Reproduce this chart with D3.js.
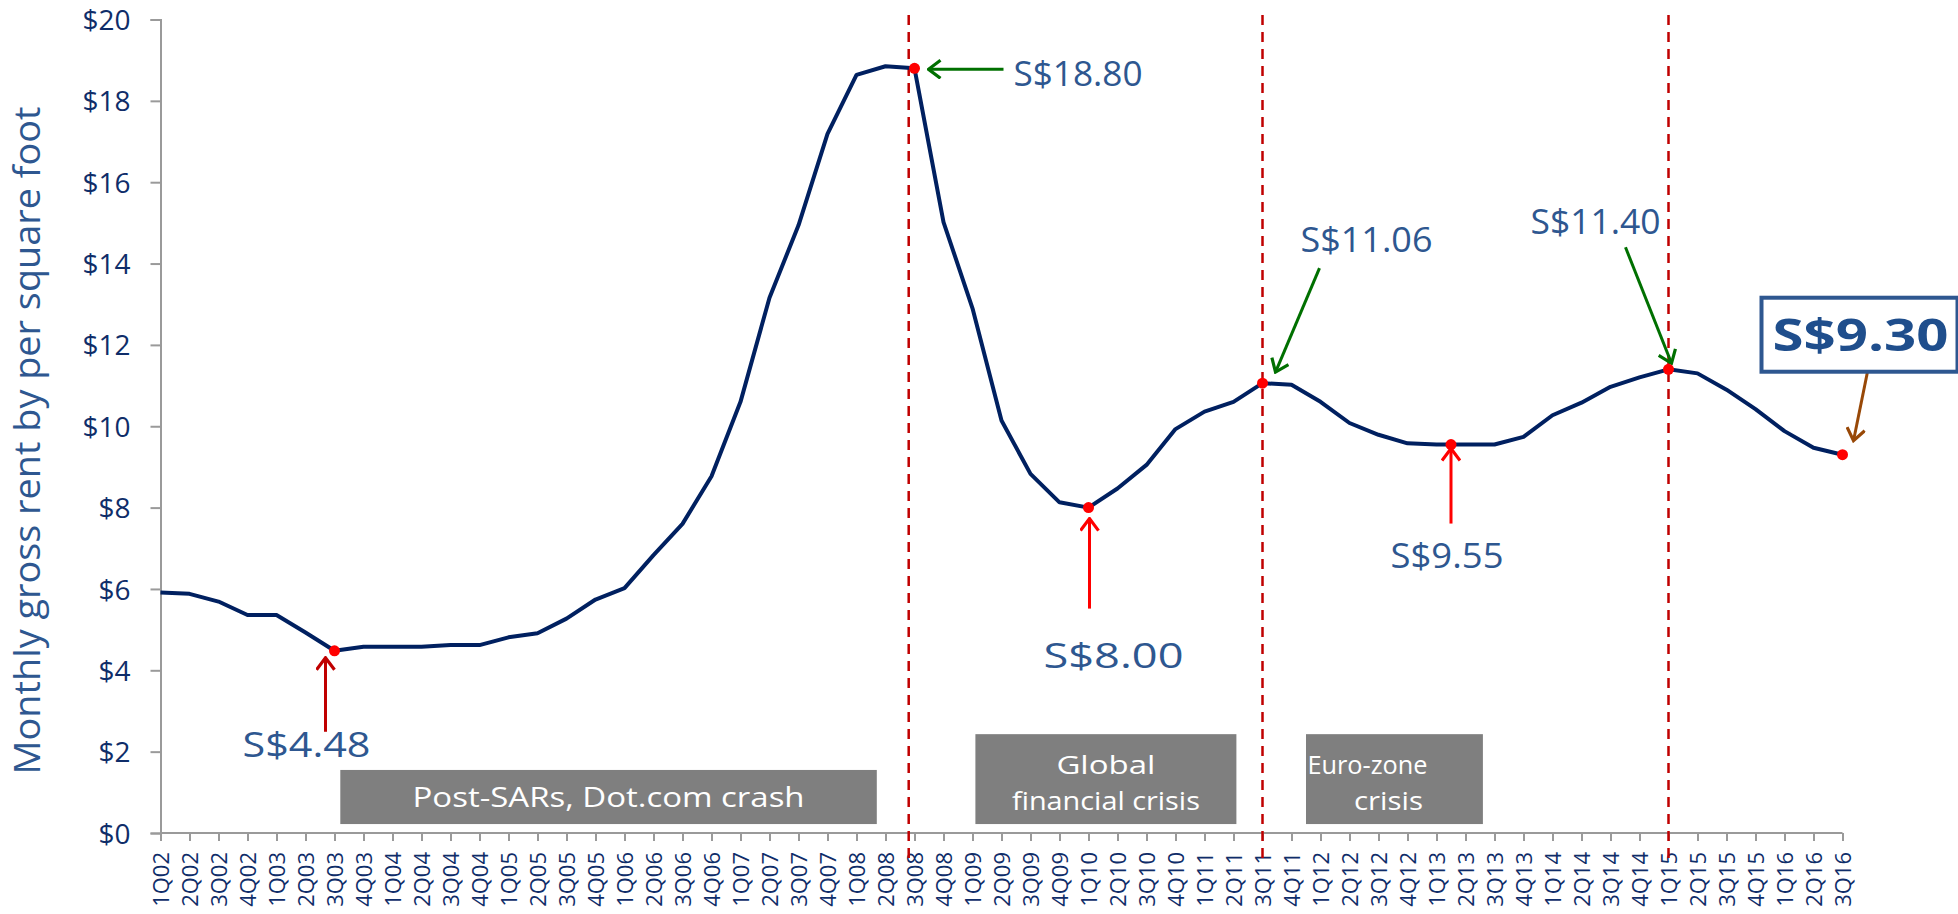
<!DOCTYPE html>
<html>
<head>
<meta charset="utf-8">
<title>Monthly gross rent</title>
<script src="https://d3js.org/d3.v7.min.js"></script>
<style>
  body { margin: 0; background: #fff; }
  text { font-family: "Open Sans", "DejaVu Sans", sans-serif; }
</style>
</head>
<body>
<div id="chart"></div>
<script>
// quarters 1Q02 .. 3Q16
var quarters = ["1Q02","2Q02","3Q02","4Q02","1Q03","2Q03","3Q03","4Q03","1Q04","2Q04","3Q04","4Q04",
  "1Q05","2Q05","3Q05","4Q05","1Q06","2Q06","3Q06","4Q06","1Q07","2Q07","3Q07","4Q07",
  "1Q08","2Q08","3Q08","4Q08","1Q09","2Q09","3Q09","4Q09","1Q10","2Q10","3Q10","4Q10",
  "1Q11","2Q11","3Q11","4Q11","1Q12","2Q12","3Q12","4Q12","1Q13","2Q13","3Q13","4Q13",
  "1Q14","2Q14","3Q14","4Q14","1Q15","2Q15","3Q15","4Q15","1Q16","2Q16","3Q16"];

// monthly gross rent, S$ per sq ft
var rent = [5.91,5.88,5.69,5.36,5.36,4.93,4.48,4.58,4.58,4.58,4.62,4.62,
  4.81,4.91,5.27,5.74,6.02,6.83,7.60,8.77,10.60,13.16,14.94,17.19,
  18.64,18.85,18.80,15.02,12.90,10.14,8.83,8.13,8.00,8.47,9.05,9.93,
  10.36,10.60,11.06,11.02,10.60,10.08,9.79,9.58,9.55,9.55,9.55,9.74,
  10.27,10.58,10.97,11.20,11.40,11.30,10.90,10.42,9.88,9.47,9.30];

var yTicks = [0,2,4,6,8,10,12,14,16,18,20];

// marked quarters (index into quarters) and their labels
var markIdx = [6, 26, 32, 38, 44.5, 52, 58];
var markVal = [4.48, 18.80, 8.00, 11.06, 9.55, 11.40, 9.30];
var markLabel = ["S$4.48","S$18.80","S$8.00","S$11.06","S$9.55","S$11.40","S$9.30"];

// crisis dividers (quarter index)
var dividers = [25.8, 38, 52];

// period boxes
var periodText = [["Post-SARs, Dot.com crash"], ["Global","financial crisis"], ["Euro-zone","crisis"]];
var periodFrom = [6.2, 28.1, 39.5];
var periodTo = [24.7, 37.1, 45.6];

var W = 1958, H = 914;
var margin = {top: 19.5, left: 160.5, right: 115.5, bottom: 81};

var svg = d3.select("#chart").append("svg")
  .attr("width", W).attr("height", H);

var x = d3.scaleLinear().domain([0, quarters.length - 1]).range([margin.left, W - margin.right]);
var y = d3.scaleLinear().domain([0, 20]).range([H - margin.bottom, margin.top]);

var navy = "#0f2d69", steel = "#2e5790";

// arrow heads
var defs = svg.append("defs");
[["red", "#ff0000"], ["dred", "#c00000"], ["green", "#007000"], ["brown", "#984807"]].forEach(function(m) {
  defs.append("marker")
    .attr("id", "ah-" + m[0])
    .attr("viewBox", "-14 -10 16 20")
    .attr("refX", 0).attr("refY", 0)
    .attr("markerWidth", 16).attr("markerHeight", 20)
    .attr("markerUnits", "userSpaceOnUse")
    .attr("orient", "auto")
    .append("path")
      .attr("d", "M-12,-9 L0,0 L-12,9")
      .attr("fill", "none")
      .attr("stroke", m[1])
      .attr("stroke-width", 3.2);
});

// y axis
var yAxis = svg.append("g")
  .attr("transform", "translate(" + margin.left + ",0)")
  .call(d3.axisLeft(y).tickValues(yTicks).tickSize(10).tickPadding(20).tickFormat(function(d) { return "$" + d; }));
yAxis.selectAll("line, path").attr("stroke", "#9a9a9a").attr("stroke-width", 2);
yAxis.selectAll("text").attr("fill", navy).style("font-size", "28px").attr("dy", "0.36em");

// x axis
var xAxis = svg.append("g")
  .attr("transform", "translate(0," + y(0) + ")")
  .call(d3.axisBottom(x).tickValues(d3.range(quarters.length)).tickSize(8).tickSizeOuter(0)
    .tickFormat(function(i) { return quarters[i]; }));
xAxis.select(".domain").attr("d", "M" + margin.left + ",0H" + x(quarters.length - 1));
xAxis.selectAll("line, path").attr("stroke", "#9a9a9a").attr("stroke-width", 2);
xAxis.selectAll("text")
  .attr("fill", navy)
  .style("font-size", "22px")
  .attr("y", 0).attr("x", -19)
  .attr("dy", "0.36em")
  .attr("text-anchor", "end")
  .attr("transform", "rotate(-90)");

// y axis title
svg.append("text")
  .attr("transform", "translate(40," + (margin.top + 421) + ") rotate(-90)")
  .attr("text-anchor", "middle")
  .attr("fill", steel)
  .style("font-size", "37px")
  .attr("textLength", 668)
  .attr("lengthAdjust", "spacingAndGlyphs")
  .text("Monthly gross rent by per square foot");

// period boxes
var boxTop = [y(1.55), y(2.43), y(2.43)];
var lineShift = [[0], [0, 0], [-27, -6]];
var lineLen = [[392], [99, 188], [120, 69]];
periodText.forEach(function(lines, i) {
  var x0 = x(periodFrom[i]), x1 = x(periodTo[i]);
  var top = boxTop[i], bot = y(0.22);
  svg.append("rect")
    .attr("x", x0).attr("y", top)
    .attr("width", x1 - x0).attr("height", bot - top)
    .attr("fill", "#7f7f7f");
  var cx = (x0 + x1) / 2;
  var base = lines.length == 1 ? bot - 17 : top + 40;
  lines.forEach(function(t, j) {
    svg.append("text")
      .attr("x", cx + lineShift[i][j]).attr("y", base + j * 36)
      .attr("text-anchor", "middle")
      .attr("fill", "#fff")
      .style("font-size", lines.length == 1 ? "28px" : "26px")
      .attr("textLength", lineLen[i][j])
      .attr("lengthAdjust", "spacingAndGlyphs")
      .text(t);
  });
});

// dividers
svg.selectAll(".divider")
  .data(dividers)
  .enter().append("line")
    .attr("class", "divider")
    .attr("x1", function(d) { return x(d); }).attr("x2", function(d) { return x(d); })
    .attr("y1", 15).attr("y2", 864)
    .attr("stroke", "#c00000")
    .attr("stroke-width", 2.5)
    .attr("stroke-dasharray", "10,7");

// rent line
svg.append("path")
  .datum(rent)
  .attr("fill", "none")
  .attr("stroke", "#002060")
  .attr("stroke-width", 4)
  .attr("stroke-linejoin", "round")
  .attr("d", d3.line()
    .x(function(d, i) { return x(i); })
    .y(function(d) { return y(d); }));

// callouts: arrow tail / tip offsets from the marked point, label placement
var callout = [
  {arrow: "dred",  tail: [-9, 81],  tip: [-9, 7],   tx: -28, ty: 106, anchor: "middle", len: 128},
  {arrow: "green", tail: [89, 1],   tip: [14, 1],   tx: 99,  ty: 18,  anchor: "start",  len: 129},
  {arrow: "red",   tail: [1, 101],  tip: [1, 11],   tx: 25,  ty: 160, anchor: "middle", len: 140},
  {arrow: "green", tail: [57, -115], tip: [13, -11], tx: 38,  ty: -131, anchor: "start", len: 132},
  {arrow: "red",   tail: [0, 79],   tip: [0, 4],    tx: -4,  ty: 123, anchor: "middle", len: 113},
  {arrow: "green", tail: [-43, -122], tip: [3, -6],  tx: -138, ty: -135, anchor: "start", len: 130},
  {arrow: "brown", tail: [25, -83], tip: [11, -14], tx: 0,   ty: 0,   anchor: "middle", len: 0}
];
var arrowColor = {red: "#ff0000", dred: "#c00000", green: "#007000", brown: "#984807"};

markIdx.forEach(function(m, i) {
  var px = x(m), py = y(markVal[i]), c = callout[i];
  svg.append("line")
    .attr("x1", px + c.tail[0]).attr("y1", py + c.tail[1])
    .attr("x2", px + c.tip[0]).attr("y2", py + c.tip[1])
    .attr("stroke", arrowColor[c.arrow])
    .attr("stroke-width", 3)
    .attr("marker-end", "url(#ah-" + c.arrow + ")");
  if (c.len > 0) {
    svg.append("text")
      .attr("x", px + c.tx).attr("y", py + c.ty)
      .attr("text-anchor", c.anchor)
      .attr("fill", steel)
      .style("font-size", "34px")
      .attr("textLength", c.len)
      .attr("lengthAdjust", "spacingAndGlyphs")
      .text(markLabel[i]);
  }
});

// boxed latest value
var last = markIdx.length - 1;
var bx = x(markIdx[last]) - 81, by = y(markVal[last]) - 157;
svg.append("rect")
  .attr("x", bx).attr("y", by)
  .attr("width", 196).attr("height", 74)
  .attr("fill", "#fff")
  .attr("stroke", "#2e5790")
  .attr("stroke-width", 4);
svg.append("text")
  .attr("x", bx + 99).attr("y", by + 53)
  .attr("text-anchor", "middle")
  .attr("fill", "#1f4e8c")
  .style("font-size", "45px")
  .style("font-weight", "bold")
  .attr("textLength", 176)
  .attr("lengthAdjust", "spacingAndGlyphs")
  .text(markLabel[last]);

// red dots
svg.selectAll(".mark")
  .data(markIdx)
  .enter().append("circle")
    .attr("class", "mark")
    .attr("cx", function(d) { return x(d); })
    .attr("cy", function(d, i) { return y(markVal[i]); })
    .attr("r", 5.5)
    .attr("fill", "#ff0000");
</script>
</body>
</html>
